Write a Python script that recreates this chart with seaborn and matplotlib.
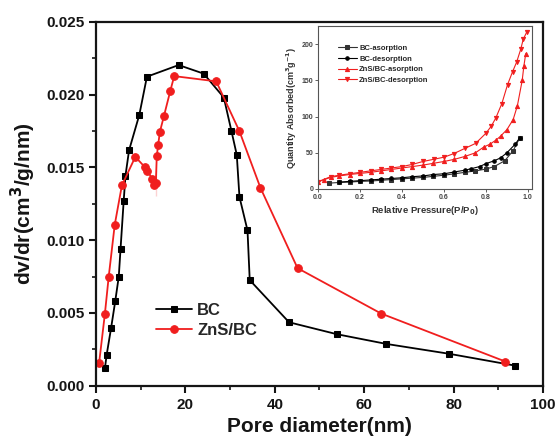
import matplotlib
matplotlib.use("Agg")
import matplotlib.pyplot as plt
import seaborn as sns
import numpy as np

# ---- main chart data ----
bc_x = [2.0, 2.4, 3.4, 4.3, 5.1, 5.5, 6.2, 6.6, 7.4, 9.7, 11.4, 18.5, 24.1, 28.6, 30.3, 31.5, 32.1, 33.9, 34.4, 43.2, 53.9, 65.0, 78.9, 93.8]
bc_y = [0.0012, 0.00214, 0.0040, 0.00579, 0.0075, 0.00942, 0.0127, 0.01444, 0.01618, 0.01862, 0.02124, 0.02204, 0.02145, 0.01981, 0.01752, 0.01587, 0.01298, 0.01068, 0.00726, 0.00436, 0.00354, 0.00287, 0.0022, 0.00138]

zns_x = [0.7, 2.0, 2.85, 4.2, 5.8, 8.8, 10.9, 11.5, 12.6, 13.0, 13.4, 13.4, 13.6, 13.9, 14.3, 15.2, 16.6, 17.5, 26.9, 32.1, 36.8, 45.1, 63.8, 91.6]
zns_y = [0.00156, 0.00496, 0.0075, 0.01107, 0.01377, 0.01573, 0.01504, 0.01474, 0.01424, 0.01382, 0.01306, 0.01486, 0.01577, 0.01653, 0.01745, 0.01853, 0.02023, 0.02128, 0.02092, 0.01749, 0.0136, 0.00808, 0.00496, 0.00166]

# ---- inset isotherm data ----
bc_ads_x = [0.05, 0.10, 0.15, 0.20, 0.25, 0.30, 0.35, 0.40, 0.45, 0.50, 0.55, 0.60, 0.65, 0.70, 0.75, 0.80, 0.84, 0.89, 0.93, 0.962]
bc_ads_y = [8, 9, 9.5, 10.5, 11, 12, 13, 14, 15, 16, 17.5, 19, 21, 23, 25, 27.5, 31, 39, 53, 71]
bc_des_x = [0.962, 0.94, 0.90, 0.87, 0.84, 0.80, 0.77, 0.73, 0.70, 0.65, 0.60, 0.55, 0.50, 0.45, 0.40, 0.35, 0.30, 0.25, 0.20, 0.15, 0.10]
bc_des_y = [71, 62, 50, 43, 39, 35, 31, 28, 26, 23.5, 21, 20, 18, 17, 15.5, 14.5, 13.5, 12.5, 11.5, 10.5, 9.5]
zns_ads_x = [0.0, 0.03, 0.06, 0.10, 0.15, 0.20, 0.25, 0.30, 0.35, 0.40, 0.45, 0.50, 0.55, 0.60, 0.65, 0.70, 0.75, 0.79, 0.82, 0.85, 0.87, 0.90, 0.93, 0.95, 0.973, 0.981, 0.99]
zns_ads_y = [10, 13, 16, 18, 20, 21.5, 23, 25, 27, 29, 31, 33, 35.5, 38, 41, 45, 50, 58, 62, 68, 73, 82, 96, 115, 150, 170, 187]
zns_des_x = [0.995, 0.978, 0.966, 0.946, 0.927, 0.903, 0.876, 0.847, 0.826, 0.80, 0.751, 0.699, 0.648, 0.601, 0.551, 0.50, 0.45, 0.40, 0.35, 0.30, 0.25, 0.20, 0.15, 0.10, 0.06, 0.0]
zns_des_y = [217, 207, 193, 175, 162, 144, 118, 98, 87, 77, 63, 56, 49, 44, 41, 38, 34, 31, 29, 27, 25, 23, 21, 19, 17, 10]

RED = "#f01e1e"
sns.set_theme(style="white")
plt.rcParams['font.family'] = ['Liberation Sans', 'DejaVu Sans']
plt.rcParams['font.weight'] = 'bold'

fig = plt.figure(figsize=(5.58, 4.40), dpi=100)
ax = fig.add_axes([0.172, 0.1234, 0.801, 0.8266])

sns.lineplot(x=bc_x, y=bc_y, ax=ax, sort=False, color="black", marker="s", markersize=5,
             markeredgecolor="black", linewidth=1.3, label="BC")
sns.lineplot(x=zns_x, y=zns_y, ax=ax, sort=False, color=RED, marker="o", markersize=5.5,
             markeredgecolor=RED, linewidth=1.3, label="ZnS/BC")

ax.set_xlim(0, 100)
ax.set_ylim(0, 0.025)
ax.set_xticks([0, 20, 40, 60, 80, 100])
ax.set_xticks([10, 30, 50, 70, 90], minor=True)
ax.set_yticks([0.0, 0.005, 0.010, 0.015, 0.020, 0.025])
ax.set_yticks([0.0025, 0.0075, 0.0125, 0.0175, 0.0225], minor=True)
ax.set_yticklabels(["0.000", "0.005", "0.010", "0.015", "0.020", "0.025"])
ax.tick_params(axis="both", which="major", direction="out", length=5, width=1.5,
               labelsize=11, bottom=True, left=True, colors="#151515")
ax.tick_params(axis="both", which="minor", direction="out", length=3, width=1.2,
               bottom=True, left=True, colors="#151515")
for lab in ax.get_xticklabels() + ax.get_yticklabels():
    lab.set_fontweight("bold")
for sp in ax.spines.values():
    sp.set_linewidth(1.6)
    sp.set_color("#151515")
ax.set_xlabel("Pore diameter(nm)", fontsize=15, fontweight="bold", labelpad=4, color="#151515")
ax.set_ylabel("dv/dr(cm$^\\mathbf{3}$/g/nm)", fontsize=15, fontweight="bold", labelpad=6,
              color="#151515")

leg = ax.legend(loc="lower left", bbox_to_anchor=(0.10, 0.09), frameon=False,
                prop={"size": 12, "weight": "bold"}, handlelength=2.2, handletextpad=0.3,
                labelspacing=0.3)

# ---- inset ----
ins = fig.add_axes([0.570, 0.5705, 0.3835, 0.370])
sns.lineplot(x=bc_ads_x, y=bc_ads_y, ax=ins, sort=False, color="#333333", marker="s",
             markersize=2.5, markeredgecolor="#333333", linewidth=0.8, label="BC-asorption")
sns.lineplot(x=bc_des_x, y=bc_des_y, ax=ins, sort=False, color="black", marker="o",
             markersize=2.5, markeredgecolor="black", linewidth=0.8, label="BC-desorption")
sns.lineplot(x=zns_ads_x, y=zns_ads_y, ax=ins, sort=False, color=RED, marker="^",
             markersize=3, markeredgecolor=RED, linewidth=0.8, label="ZnS/BC-asorption")
sns.lineplot(x=zns_des_x, y=zns_des_y, ax=ins, sort=False, color=RED, marker="v",
             markersize=3, markeredgecolor=RED, linewidth=0.8, label="ZnS/BC-desorption")
ins.set_xlim(0, 1.02)
ins.set_ylim(0, 225)
ins.set_xticks([0.0, 0.2, 0.4, 0.6, 0.8, 1.0])
ins.set_xticklabels(["0.0", "0.2", "0.4", "0.6", "0.8", "1.0"])
ins.set_yticks([0, 50, 100, 150, 200])
ins.tick_params(axis="both", direction="out", length=2, width=0.6, labelsize=5,
                bottom=True, left=True, pad=1.5, colors="#444444")
for lab in ins.get_xticklabels() + ins.get_yticklabels():
    lab.set_fontweight("bold")
for sp in ins.spines.values():
    sp.set_linewidth(0.8)
    sp.set_color("#555555")
ins.set_xlabel("Relative Pressure(P/P$_\\mathbf{0}$)", fontsize=6.8, fontweight="bold",
               labelpad=2, color="#333333")
ins.set_ylabel("Quantity Absorbed(cm$^\\mathbf{3}$g$^\\mathbf{-1}$)", fontsize=6.5,
               fontweight="bold", labelpad=2, color="#333333")
ins.legend(loc="upper left", bbox_to_anchor=(0.06, 0.93), frameon=False,
           prop={"size": 5.5, "weight": "bold"}, handlelength=2.5, handletextpad=0.3,
           labelspacing=0.45)

fig.savefig("out.png", dpi=100)
